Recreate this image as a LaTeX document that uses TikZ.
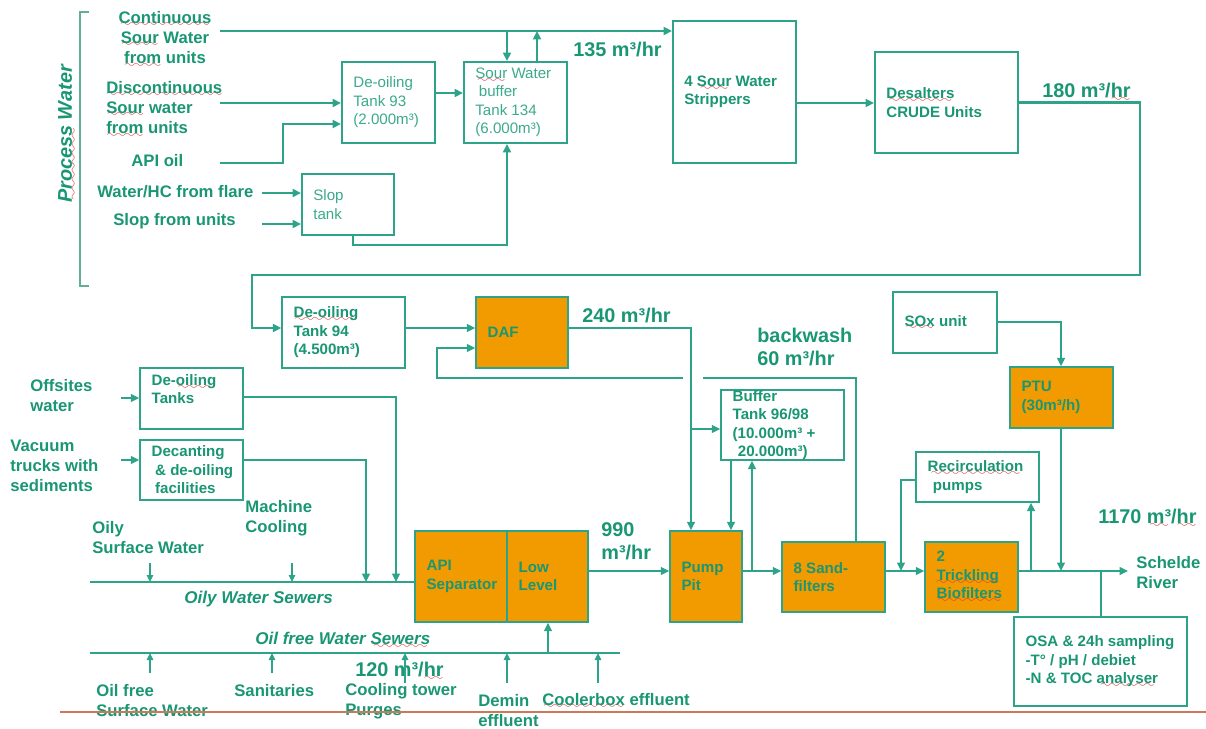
\documentclass[tikz,border=0pt]{standalone}
\usepackage{fontspec}
\setmainfont{Liberation Sans}
\usetikzlibrary{arrows.meta,calc}
\definecolor{ln}{RGB}{45,163,138}
\definecolor{tx}{RGB}{25,150,115}
\definecolor{txl}{RGB}{60,170,140}
\definecolor{org}{RGB}{242,155,0}
\definecolor{brk}{RGB}{95,175,155}
\definecolor{redl}{RGB}{205,120,90}
\definecolor{sqc}{RGB}{215,60,60}
\font\sqfont=lasy6
\newsavebox\sqbox
\newcommand\sq[1]{\sbox\sqbox{#1}\leavevmode\rlap{\hbox to\wd\sqbox{\color{sqc}\cleaders\hbox{\lower2.2pt\hbox{\sqfont\char58}}\hfill}}\usebox\sqbox}
\newcommand\bx[8]{%
  \pgfmathsetlengthmacro\bw{(#6-#4)*0.02cm}%
  \pgfmathsetlengthmacro\bh{(#7-#5)*0.02cm}%
  \node[#2, minimum width=\bw, minimum height=\bh] (#1) at ({(#4+#6)/2},{(#5+#7)/2}) {};
  \node[#3, anchor=west] (#1t) at ([xshift=0.24cm]#1.west) {#8};}
\begin{document}
\begin{tikzpicture}[x=0.02cm,y=-0.02cm,
  tk/.style={draw=ln,line width=1.4pt},
  tm/.style={draw=ln,line width=1.1pt},
  tn/.style={draw=ln,line width=0.85pt},
  ar/.style={-{Triangle[length=1.7mm,width=1.6mm]}},
  ars/.style={-{Triangle[length=1.4mm,width=1.3mm]}},
  shw/.style={draw=ln,line width=1.1pt,fill=white,inner sep=0pt},
  shwl/.style={draw=ln,line width=0.8pt,fill=white,inner sep=0pt},
  sho/.style={draw=ln,line width=0.8pt,fill=org,inner sep=0pt},
  treg/.style={font=\fontsize{8.6}{10.5}\selectfont,text=txl,align=left,inner sep=0pt},
  tbold/.style={font=\fontsize{8.6}{10.5}\selectfont\bfseries,text=tx,align=left,inner sep=0pt},
  lbl/.style={font=\fontsize{9.5}{11.4}\selectfont\bfseries,text=tx,align=left,inner sep=0pt},
  big/.style={font=\fontsize{11.3}{13}\selectfont\bfseries,text=tx,align=left,inner sep=0pt},
  ital/.style={font=\fontsize{9.7}{11.6}\selectfont\bfseries\itshape,text=tx,inner sep=0pt},
  pwst/.style={font=\fontsize{11.3}{13}\selectfont\bfseries\itshape,text=tx,inner sep=0pt},
]
\useasboundingbox (0,0) rectangle (1206,729);

% ---------- boxes ----------
\bx{dt93}{shw}{treg}{342}{62}{435}{143}{De-oiling\\Tank 93\\(2.000m³)}
\bx{sw134}{shw}{treg}{464}{62}{567}{143}{\sq{Sour} Water\\\hspace*{2pt}buffer\\Tank 134\\(6.000m³)}
\bx{strip}{shw}{tbold}{673}{21}{796}{163}{4 \sq{Sour} Water\\Strippers}
\bx{desal}{shw}{tbold}{875}{52}{1018}{153}{\sq{Desalters}\\CRUDE Units}
\bx{slop}{shw}{treg}{302}{174}{394}{235}{Slop\\tank}
\bx{dt94}{shwl}{tbold}{282}{297}{405}{368}{\sq{De-oiling}\\Tank 94\\(4.500m³)}
\bx{daf}{sho}{tbold}{476}{297}{568}{368}{DAF}
\bx{dtanks}{shwl}{tbold}{140}{368}{243}{429}{De-\sq{oiling}\\Tanks\\\mbox{}}
\bx{decant}{shwl}{tbold}{140}{440}{243}{500}{Decanting\\\hspace*{2pt}\& de-oiling\\\hspace*{2pt}facilities}
\bx{buf}{shwl}{tbold}{721}{390}{844}{460}{Buffer\\Tank 96/98\\(10.000m³ +\\\hspace*{3pt}20.000m³)}
\bx{sox}{shwl}{tbold}{893}{292}{997}{353}{\sq{SOx} unit}
\bx{ptu}{sho}{tbold}{1010}{367}{1113}{428}{PTU\\(30m³/h)}
\bx{recirc}{shwl}{tbold}{916}{452}{1039}{502}{\sq{Recirculation}\\\hspace*{3pt}pumps}
\bx{api}{sho}{tbold}{415}{531}{507}{622}{API\\Separator}
\bx{low}{sho}{tbold}{507}{531}{588}{622}{Low\\Level}
\bx{pump}{sho}{tbold}{670}{531}{742}{622}{Pump\\Pit}
\bx{sand}{sho}{tbold}{782}{542}{885}{612}{8 Sand-\\filters}
\bx{trick}{sho}{tbold}{925}{542}{1018}{612}{2\\\sq{Trickling}\\\sq{Biofilters}}
\bx{osa}{shwl}{tbold}{1014}{617}{1187}{706}{OSA \& 24h sampling\\-T° / pH / debiet\\-N \& TOC \sq{analyser}}

% ---------- labels ----------
\node[lbl,align=center] (cont) at (165,39) {\sq{Continuous}\\\sq{Sour} Water\\\sq{from} units};
\node[lbl,anchor=west] (disc) at (106,109) {\sq{Discontinuous}\\\sq{Sour} water\\\sq{from} units};
\node[lbl,anchor=west] (apioil) at (131,161) {API oil};
\node[lbl,anchor=west] (flare) at (97,192) {Water/HC from flare};
\node[lbl,anchor=west] (slopu) at (113,221) {Slop from units};
\node[pwst,rotate=90] (pw) at (67,134) {\sq{Process} Water};
\node[lbl,anchor=west] (offs) at (30,396) {Offsites\\water};
\node[lbl,anchor=west] (vac) at (10,466) {Vacuum\\trucks with\\sediments};
\node[lbl,anchor=west] (mach) at (245,518) {Machine\\Cooling};
\node[lbl,anchor=west] (oilys) at (92,538) {Oily\\Surface Water};
\node[ital,anchor=west] (osew) at (184,599) {Oily Water Sewers};
\node[ital,anchor=west] (ofsew) at (255,640) {Oil free Water \sq{Sewers}};
\node[lbl,anchor=west] (ofsw) at (96,701) {Oil free\\Surface Water};
\node[lbl,anchor=west] (sanit) at (234,691) {Sanitaries};
\node[big,anchor=west] (m120) at (355,671) {120 m³/\sq{hr}};
\node[lbl,anchor=west] (cool) at (345,701) {Cooling tower\\Purges};
\node[lbl,anchor=west] (demin) at (478,711) {Demin\\effluent};
\node[lbl,anchor=west] (coolb) at (542,701) {\sq{Coolerbox} effluent};
\node[big,anchor=west] (m135) at (573,50) {135 m³/hr};
\node[big,anchor=west] (m180) at (1042,92) {180 m³/\sq{hr}};
\node[big,anchor=west] (m240) at (582,316) {240 m³/hr};
\node[big,anchor=west] (bw) at (757,347) {backwash\\60 m³/hr};
\node[big,anchor=west] (m990) at (601,541) {990\\m³/hr};
\node[big,anchor=west] (m1170) at (1098,518) {1170 \sq{m³}/\sq{hr}};
\node[lbl,anchor=west] (sch) at (1136,573) {Schelde\\River};

% ---------- bracket and bottom line ----------
\coordinate (br1) at (89,12); \coordinate (br2) at (80,12);
\coordinate (br3) at (80,286); \coordinate (br4) at (89,286);
\draw[brk,line width=0.8pt] (br1) -- (br2) -- (br3) -- (br4);
\coordinate (rl1) at (60,712); \coordinate (rl2) at (1206,712);
\draw[redl,line width=0.6pt] (rl1) -- (rl2);

% ---------- top connectors ----------
\coordinate (c0) at (220,31);
\draw[tk,ar] (c0) -- (c0 -| strip.west);
\coordinate (j1) at (507,31);
\draw[tk,ar] (j1) -- (j1 |- sw134.north);
\coordinate (j2) at (537,31);
\draw[tk,ar] (j2 |- sw134.north) -- (j2);
\coordinate (d0) at (220,103);
\draw[tm,ar] (d0) -- (d0 -| dt93.west);
\coordinate (a0) at (220,163);
\coordinate (a1) at (283,124);
\draw[tm,ar] (a0) -| (a1) -- (a1 -| dt93.west);
\coordinate (b1) at (450,93);
\draw[tm,ar] (b1 -| dt93.east) -- (b1 -| sw134.west);
\coordinate (f0) at (262,193); \draw[tk,ar] (f0) -- (f0 -| slop.west);
\coordinate (f1) at (262,224); \draw[tk,ar] (f1) -- (f1 -| slop.west);
\coordinate (s1) at (353,245); \coordinate (s2) at (507,245);
\draw[tm,ar] (s1 |- slop.south) -- (s1) -- (s2) -- (s2 |- sw134.south);
\coordinate (e1) at (800,103);
\draw[tk,ar] (e1 -| strip.east) -- (e1 -| desal.west);
\coordinate (g1) at (1140,275); \coordinate (g2) at (252,275); \coordinate (g3) at (252,328);
\draw[tk,ar] (desal.east) -| (g1) -- (g2) -- (g3) -- (g3 -| dt94.west);

% ---------- middle connectors ----------
\coordinate (h1) at (450,328);
\draw[tn,ar] (h1 -| dt94.east) -- (h1 -| daf.west);
\coordinate (k1) at (856,378); \coordinate (k2) at (437,378); \coordinate (k3) at (437,348);
\draw[tn,ar] (k1 |- sand.north) -- (k1) -- (k2) -- (k3) -- (k3 -| daf.west);
\coordinate (gapL) at (683,378); \coordinate (gapR) at (703,378);
\draw[white,line width=2pt] (gapL) -- (gapR);
\coordinate (m1) at (691,328);
\draw[tn,ar] (m1 -| daf.east) -- (m1) -- (m1 |- pump.north);
\coordinate (m2) at (691,429);
\draw[tn,ar] (m2) -- (m2 -| buf.west);
\coordinate (n1) at (731,500);
\draw[tn,ar] (n1 |- buf.south) -- (n1 |- pump.north);
\coordinate (p1) at (600,571);
\draw[tn,ar] (p1 -| low.east) -- (p1 -| pump.west);
\draw[tn,ar] (p1 -| pump.east) -- (p1 -| sand.west);
\coordinate (n2) at (752,571);
\draw[tn,ar] (n2) -- (n2 |- buf.south);
\draw[tn,ar] (p1 -| sand.east) -- (p1 -| trick.west);
\coordinate (r1) at (901,480);
\draw[tn,ar] (r1 -| recirc.west) -- (r1) -- (r1 |- p1);
\coordinate (t1) at (1128,571);
\draw[tn,ar] (p1 -| trick.east) -- (t1);
\coordinate (r2) at (1031,571);
\draw[tn,ar] (r2) -- (r2 |- recirc.south);
\coordinate (u1) at (1061,322);
\draw[tn,ar] (u1 -| sox.east) -- (u1) -- (u1 |- ptu.north);
\draw[tn,ar] (u1 |- ptu.south) -- (u1 |- p1);
\coordinate (v1) at (1101,571);
\draw[tn] (v1 |- osa.north) -- (v1);

% ---------- lower left connectors ----------
\coordinate (w1) at (121,398); \draw[tn,ar] (w1) -- (w1 -| dtanks.west);
\coordinate (w2) at (121,460); \draw[tn,ar] (w2) -- (w2 -| decant.west);
\coordinate (sew1) at (90,582);
\draw[tn] (sew1) -- (sew1 -| api.west);
\coordinate (x1) at (396,397);
\draw[tn,ar] (x1 -| dtanks.east) -- (x1) -- (x1 |- sew1);
\coordinate (x2) at (366,460);
\draw[tn,ar] (x2 -| decant.east) -- (x2) -- (x2 |- sew1);
\coordinate (q1) at (150,563); \draw[tn,ars] (q1) -- (q1 |- sew1);
\coordinate (q2) at (292,563); \draw[tn,ars] (q2) -- (q2 |- sew1);
\coordinate (sew2) at (90,653); \coordinate (sew2e) at (620,653);
\draw[tn] (sew2) -- (sew2e);
\coordinate (o1) at (150,673); \draw[tn,ars] (o1) -- (o1 |- sew2);
\coordinate (o2) at (272,673); \draw[tn,ars] (o2) -- (o2 |- sew2);
\coordinate (o3) at (405,683); \draw[tn,ars] (o3) -- (o3 |- sew2);
\coordinate (o4) at (507,683); \draw[tn,ars] (o4) -- (o4 |- sew2);
\coordinate (o5) at (598,683); \draw[tn,ars] (o5) -- (o5 |- sew2);
\coordinate (y1) at (548,653); \draw[tn,ar] (y1) -- (y1 |- low.south);
\end{tikzpicture}
\end{document}
